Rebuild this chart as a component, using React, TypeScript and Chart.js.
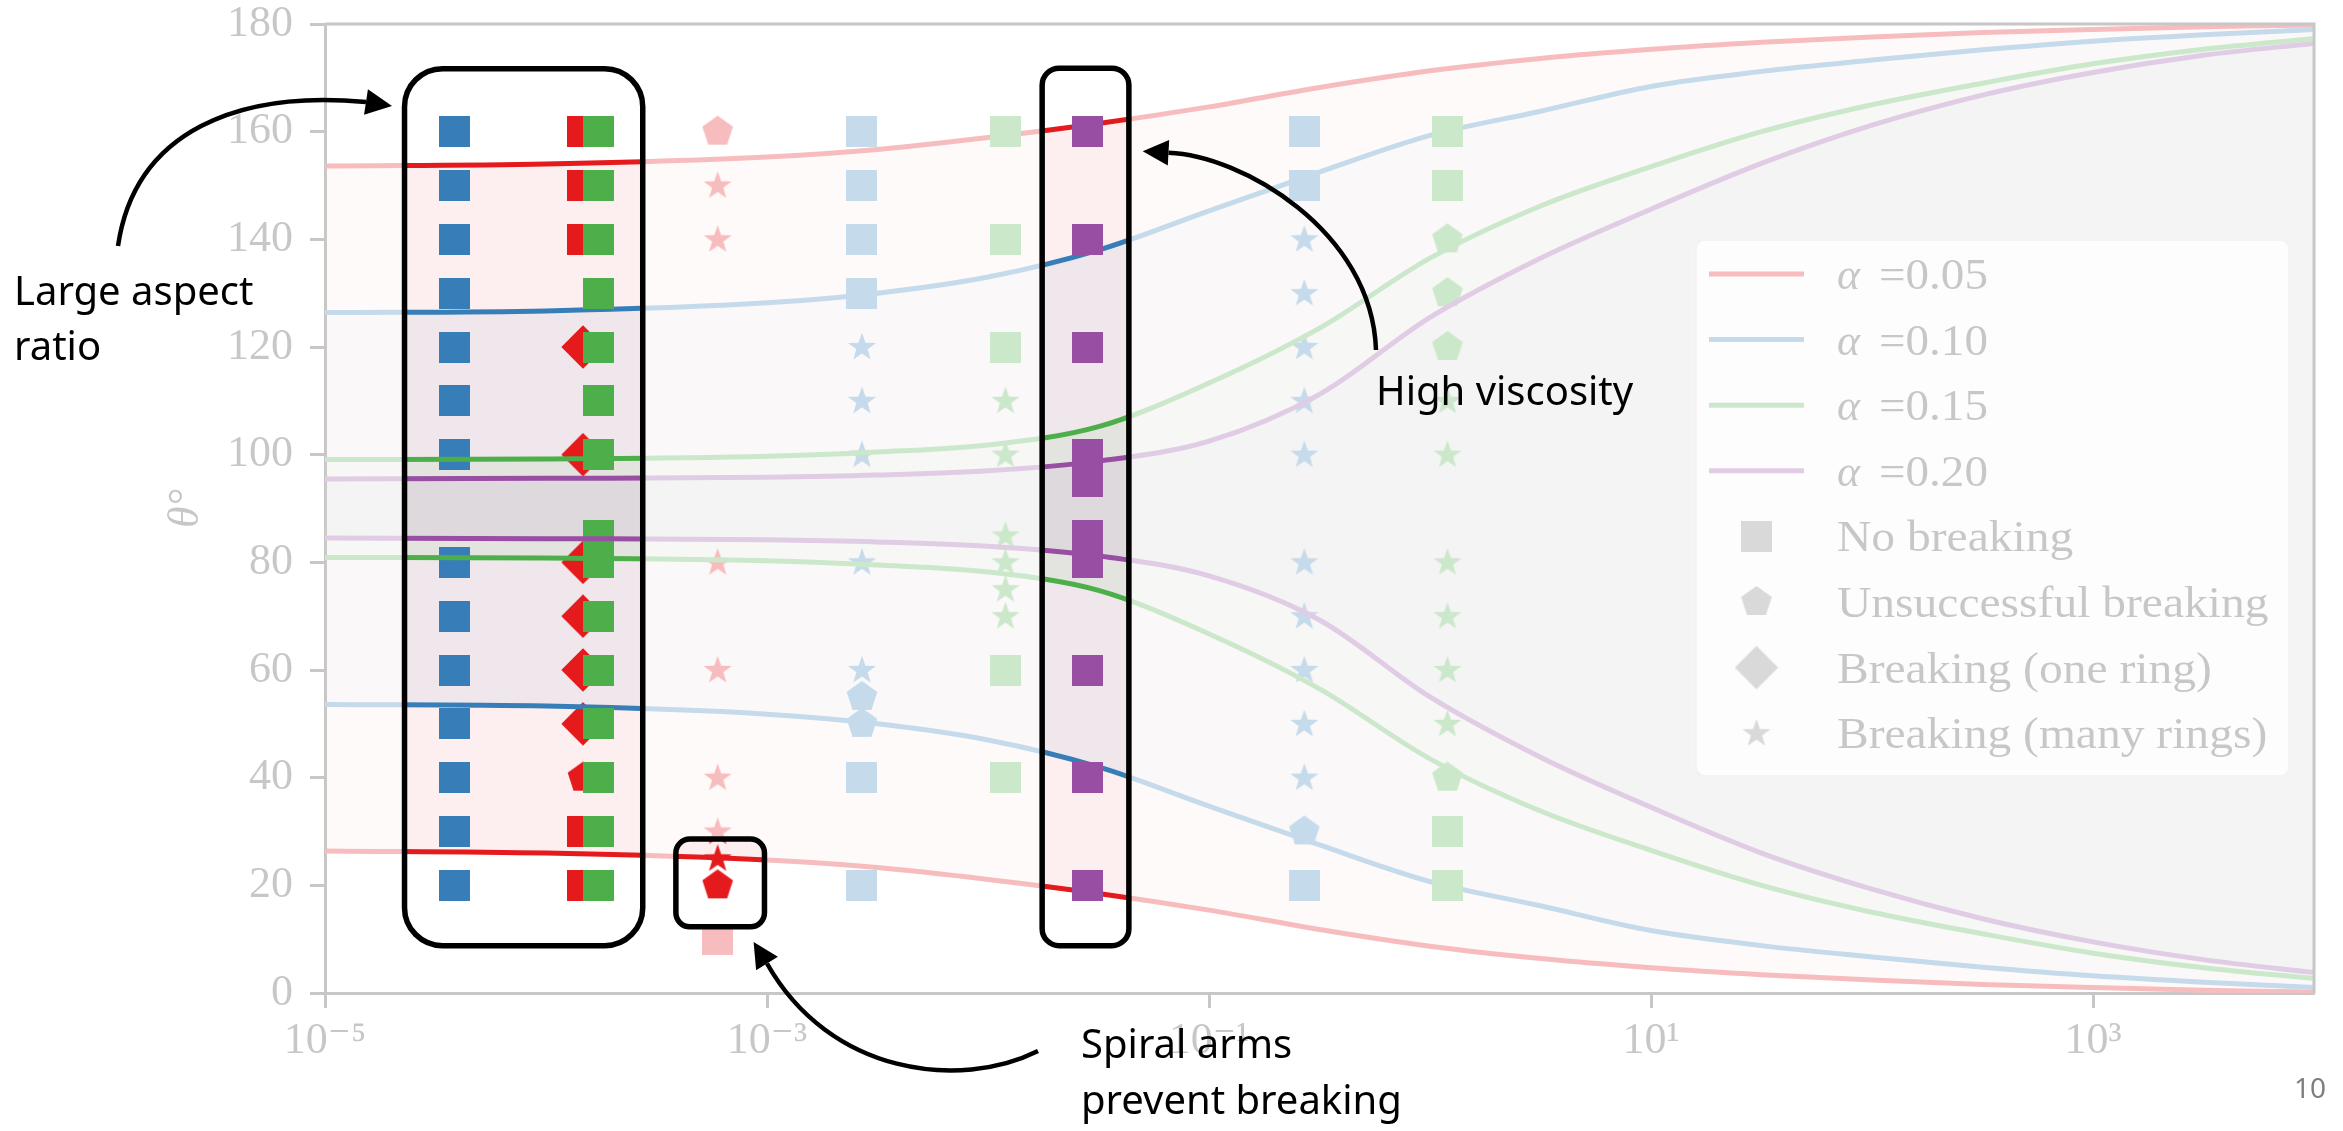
import React, { useEffect, useRef } from 'react';
import { Chart, registerables } from 'chart.js';

Chart.register(...registerables);

const CANVAS_W = 2343;
const CANVAS_H = 1131;

// ---------- boundary curves (θ° versus x), read at half-decade steps ----------
const CURVE_X = [1e-5, 1e-4, 1e-3, 3.162e-3, 1e-2, 3.162e-2, 0.1, 0.3162, 1, 3.162, 10, 31.62, 100, 316.2, 1000, 3162, 10000];
const A005_UPPER = [153.6, 154.0, 155.3, 156.7, 158.9, 161.5, 164.6, 168.2, 171.3, 173.6, 175.3, 176.6, 177.6, 178.4, 179.0, 179.5, 179.8];
const A005_LOWER = [26.4, 26.0, 24.7, 23.3, 21.1, 18.5, 15.4, 11.8, 8.7, 6.4, 4.7, 3.4, 2.4, 1.6, 1.0, 0.5, 0.2];
const A010_UPPER = [126.4, 126.7, 128.2, 130.0, 133.0, 138.0, 145.3, 152.5, 159.3, 163.8, 168.4, 171.2, 173.3, 175.2, 176.8, 178.0, 179.0];
const A010_LOWER = [53.6, 53.3, 51.8, 50.0, 47.0, 42.0, 34.7, 27.5, 20.7, 16.2, 11.6, 8.8, 6.7, 4.8, 3.2, 2.0, 1.0];
const A015_UPPER = [99.1, 99.2, 99.7, 100.5, 101.8, 105.2, 113.3, 123.5, 136.5, 146.2, 153.5, 160.0, 165.0, 169.0, 172.6, 175.3, 177.3];
const A015_LOWER = [80.9, 80.8, 80.3, 79.5, 78.2, 74.8, 66.7, 56.5, 43.5, 33.8, 26.5, 20.0, 15.0, 11.0, 7.4, 4.7, 2.7];
const A020_UPPER = [95.5, 95.6, 95.8, 96.2, 97.0, 98.8, 102.5, 111.2, 125.5, 136.5, 145.6, 154.1, 161.2, 166.8, 171.0, 174.2, 176.4];
const A020_LOWER = [84.5, 84.4, 84.2, 83.8, 83.0, 81.2, 77.5, 69.3, 55.0, 43.8, 34.5, 26.0, 19.3, 13.8, 9.5, 6.2, 3.8];

// ---------- simulation outcomes [x, θ°] ----------
// α = 0.05
const A005_SQUARE = [[1.47e-4, 160], [1.47e-4, 150], [1.47e-4, 140], [1.47e-4, 30], [1.47e-4, 20], [5.98e-4, 10]];
const A005_PENTAGON = [[1.47e-4, 40], [5.98e-4, 160], [5.98e-4, 20]];
const A005_DIAMOND = [[1.47e-4, 120], [1.47e-4, 100], [1.47e-4, 80], [1.47e-4, 70], [1.47e-4, 60], [1.47e-4, 50]];
const A005_STAR = [[5.98e-4, 150], [5.98e-4, 140], [5.98e-4, 80], [5.98e-4, 60], [5.98e-4, 40], [5.98e-4, 30], [5.98e-4, 25]];
// α = 0.10
const A010_SQUARE = [
  [3.87e-5, 160], [3.87e-5, 150], [3.87e-5, 140], [3.87e-5, 130], [3.87e-5, 120], [3.87e-5, 110], [3.87e-5, 100],
  [3.87e-5, 80], [3.87e-5, 70], [3.87e-5, 60], [3.87e-5, 50], [3.87e-5, 40], [3.87e-5, 30], [3.87e-5, 20],
  [2.69e-3, 160], [2.69e-3, 150], [2.69e-3, 140], [2.69e-3, 130], [2.69e-3, 40], [2.69e-3, 20],
  [0.27, 160], [0.27, 150], [0.27, 20],
];
const A010_PENTAGON = [[2.69e-3, 55], [2.69e-3, 50], [0.27, 30]];
const A010_STAR = [
  [2.69e-3, 120], [2.69e-3, 110], [2.69e-3, 100], [2.69e-3, 80], [2.69e-3, 60],
  [0.27, 140], [0.27, 130], [0.27, 120], [0.27, 110], [0.27, 100], [0.27, 80], [0.27, 70], [0.27, 60], [0.27, 50], [0.27, 40],
];
// α = 0.15
const A015_SQUARE = [
  [1.72e-4, 160], [1.72e-4, 150], [1.72e-4, 140], [1.72e-4, 130], [1.72e-4, 120], [1.72e-4, 110], [1.72e-4, 100],
  [1.72e-4, 85], [1.72e-4, 80], [1.72e-4, 70], [1.72e-4, 60], [1.72e-4, 50], [1.72e-4, 40], [1.72e-4, 30], [1.72e-4, 20],
  [1.2e-2, 160], [1.2e-2, 140], [1.2e-2, 120], [1.2e-2, 60], [1.2e-2, 40],
  [1.2, 160], [1.2, 150], [1.2, 30], [1.2, 20],
];
const A015_PENTAGON = [[1.2, 140], [1.2, 130], [1.2, 120], [1.2, 40]];
const A015_STAR = [
  [1.2e-2, 110], [1.2e-2, 100], [1.2e-2, 85], [1.2e-2, 80], [1.2e-2, 75], [1.2e-2, 70],
  [1.2, 110], [1.2, 100], [1.2, 80], [1.2, 70], [1.2, 60], [1.2, 50],
];
// α = 0.20
const A020_SQUARE = [
  [2.83e-2, 160], [2.83e-2, 140], [2.83e-2, 120], [2.83e-2, 100], [2.83e-2, 95],
  [2.83e-2, 85], [2.83e-2, 80], [2.83e-2, 60], [2.83e-2, 40], [2.83e-2, 20],
];

// ---------- axes ----------
const X_TICKS = [1e-5, 1e-3, 1e-1, 1e1, 1e3];
const X_TICK_LABELS = ['10⁻⁵', '10⁻³', '10⁻¹', '10¹', '10³'];
const Y_MIN = 0;
const Y_MAX = 180;
const Y_STEP = 20;
const X_MIN = 1e-5;
const X_MAX = 1e4;

// ---------- legend ----------
const ALPHA_LABELS = ['0.05', '0.10', '0.15', '0.20'];
const OUTCOME_LABELS = ['No breaking', 'Unsuccessful breaking', 'Breaking (one ring)', 'Breaking (many rings)'];
const OUTCOME_SHAPES = ['square', 'pentagon', 'diamond', 'star'];

// ---------- highlighted regions (data coordinates) ----------
const HIGHLIGHT_BOXES = [
  { x0: 2.29e-5, x1: 2.74e-4, y0: 8.8, y1: 171.7, r: 38 },
  { x0: 3.87e-4, x1: 9.74e-4, y0: 12.3, y1: 28.6, r: 14 },
  { x0: 1.758e-2, x1: 4.34e-2, y0: 8.8, y1: 171.8, r: 17 },
];

const COLORS = ['#e41a1c', '#377eb8', '#4daf4a', '#984ea3'];
const FILLS = ['rgba(228,26,28,0.07)', 'rgba(55,126,184,0.07)', 'rgba(77,175,74,0.07)', 'rgba(152,78,163,0.07)'];
const INK = '#3e3e3e';
const LEGEND_MARK = '#7a7a7a';
const FADE = 'rgba(255,255,255,0.715)';
const SERIF = '"Liberation Serif", "DejaVu Serif", serif';
const SANS = '"Noto Sans", "Open Sans", sans-serif';

type Shape = 'square' | 'pentagon' | 'diamond' | 'star';

function markerCanvas(shape: Shape, color: string): HTMLCanvasElement {
  const c = document.createElement('canvas');
  const ctx = c.getContext('2d') as CanvasRenderingContext2D;
  if (shape === 'square') {
    c.width = 31; c.height = 31;
    ctx.fillStyle = color;
    ctx.fillRect(0, 0, 31, 31);
    return c;
  }
  if (shape === 'diamond') {
    c.width = 44; c.height = 44;
    ctx.fillStyle = color;
    ctx.beginPath();
    ctx.moveTo(22, 0.3); ctx.lineTo(43.7, 22); ctx.lineTo(22, 43.7); ctx.lineTo(0.3, 22);
    ctx.closePath(); ctx.fill();
    return c;
  }
  if (shape === 'pentagon') {
    c.width = 34; c.height = 34;
    const R = 16.1, cx = 17, cy = 17;
    ctx.fillStyle = color;
    ctx.beginPath();
    for (let k = 0; k < 5; k++) {
      const a = -Math.PI / 2 + (k * 2 * Math.PI) / 5;
      const px = cx + R * Math.cos(a), py = cy + R * Math.sin(a);
      if (k === 0) ctx.moveTo(px, py); else ctx.lineTo(px, py);
    }
    ctx.closePath(); ctx.fill();
    return c;
  }
  c.width = 32; c.height = 32;
  const R = 14.8, r = R * 0.4, cx = 16, cy = 16.5;
  ctx.fillStyle = color;
  ctx.beginPath();
  for (let k = 0; k < 10; k++) {
    const a = -Math.PI / 2 + (k * Math.PI) / 5;
    const rr = k % 2 === 0 ? R : r;
    const px = cx + rr * Math.cos(a), py = cy + rr * Math.sin(a);
    if (k === 0) ctx.moveTo(px, py); else ctx.lineTo(px, py);
  }
  ctx.closePath(); ctx.fill();
  return c;
}

function roundRectPath(ctx: CanvasRenderingContext2D, x: number, y: number, w: number, h: number, r: number) {
  ctx.moveTo(x + r, y);
  ctx.lineTo(x + w - r, y);
  ctx.arcTo(x + w, y, x + w, y + r, r);
  ctx.lineTo(x + w, y + h - r);
  ctx.arcTo(x + w, y + h, x + w - r, y + h, r);
  ctx.lineTo(x + r, y + h);
  ctx.arcTo(x, y + h, x, y + h - r, r);
  ctx.lineTo(x, y + r);
  ctx.arcTo(x, y, x + r, y, r);
  ctx.closePath();
}

type P = [number, number];
function drawArrow(ctx: CanvasRenderingContext2D, p0: P, p1: P, p2: P, p3: P, tip: P) {
  ctx.save();
  ctx.strokeStyle = '#000';
  ctx.fillStyle = '#000';
  ctx.lineWidth = 4.5;
  ctx.beginPath();
  ctx.moveTo(p0[0], p0[1]);
  ctx.bezierCurveTo(p1[0], p1[1], p2[0], p2[1], p3[0], p3[1]);
  ctx.stroke();
  const dx = tip[0] - p3[0], dy = tip[1] - p3[1];
  const L = Math.hypot(dx, dy);
  const nx = -dy / L, ny = dx / L;
  const hw = 12.8;
  ctx.beginPath();
  ctx.moveTo(tip[0], tip[1]);
  ctx.lineTo(p3[0] + nx * hw, p3[1] + ny * hw);
  ctx.lineTo(p3[0] - nx * hw, p3[1] - ny * hw);
  ctx.closePath();
  ctx.fill();
  ctx.restore();
}

function stretchedText(ctx: CanvasRenderingContext2D, text: string, x: number, y: number, k: number) {
  ctx.save();
  ctx.translate(x, y);
  ctx.scale(k, 1);
  ctx.fillText(text, 0, 0);
  ctx.restore();
}

function drawLegend(ctx: CanvasRenderingContext2D, marks: Record<string, HTMLCanvasElement>) {
  ctx.save();
  ctx.beginPath();
  roundRectPath(ctx, 1696, 240, 593, 536, 9);
  ctx.fillStyle = 'rgba(255,255,255,0.8)';
  ctx.fill();
  ctx.strokeStyle = 'rgba(204,204,204,0.8)';
  ctx.lineWidth = 1.5;
  ctx.stroke();

  const row0 = 274, dy = 65.6;
  ctx.fillStyle = INK;
  ctx.textBaseline = 'alphabetic';
  ctx.textAlign = 'left';
  ALPHA_LABELS.forEach((lab, i) => {
    const y = row0 + i * dy;
    ctx.strokeStyle = COLORS[i];
    ctx.lineWidth = 5;
    ctx.beginPath();
    ctx.moveTo(1709, y);
    ctx.lineTo(1804, y);
    ctx.stroke();
    ctx.font = `italic 44px ${SERIF}`;
    ctx.fillText('α', 1837, y + 15);
    ctx.font = `44px ${SERIF}`;
    stretchedText(ctx, '=' + lab, 1879, y + 15, 1.07);
  });
  OUTCOME_LABELS.forEach((lab, j) => {
    const y = row0 + (j + 4) * dy;
    const img = marks[OUTCOME_SHAPES[j]];
    ctx.drawImage(img, 1756.5 - img.width / 2, y - img.height / 2);
    ctx.font = `44px ${SERIF}`;
    stretchedText(ctx, lab, 1837, y + 15, 1.08);
  });
  ctx.restore();
}

export default function App() {
  const ref = useRef<HTMLCanvasElement | null>(null);

  useEffect(() => {
    document.body.style.margin = '0';
    document.body.style.overflow = 'hidden';
    const canvas = ref.current;
    if (!canvas) return;

    const shapes: Shape[] = ['square', 'pentagon', 'diamond', 'star'];
    const colored = COLORS.map((c) => {
      const m: Record<string, HTMLCanvasElement> = {};
      shapes.forEach((s) => { m[s] = markerCanvas(s, c); });
      return m;
    });
    const legendMarks: Record<string, HTMLCanvasElement> = {};
    shapes.forEach((s) => { legendMarks[s] = markerCanvas(s, LEGEND_MARK); });

    const pts = (arr: number[][]) => arr.map(([x, y]) => ({ x, y }));
    const curve = (ys: number[]) => CURVE_X.map((x, i) => ({ x, y: ys[i] }));

    const groups = [
      { markers: [['square', A005_SQUARE], ['pentagon', A005_PENTAGON], ['diamond', A005_DIAMOND], ['star', A005_STAR]], upper: A005_UPPER, lower: A005_LOWER },
      { markers: [['square', A010_SQUARE], ['pentagon', A010_PENTAGON], ['star', A010_STAR]], upper: A010_UPPER, lower: A010_LOWER },
      { markers: [['square', A015_SQUARE], ['pentagon', A015_PENTAGON], ['star', A015_STAR]], upper: A015_UPPER, lower: A015_LOWER },
      { markers: [['square', A020_SQUARE]], upper: A020_UPPER, lower: A020_LOWER },
    ];

    const datasets: any[] = [];
    groups.forEach((g, gi) => {
      g.markers.forEach(([shape, data]) => {
        datasets.push({
          label: `α=${ALPHA_LABELS[gi]} ${shape}`,
          data: pts(data as number[][]),
          showLine: false,
          pointStyle: colored[gi][shape as string],
          pointRadius: 10,
          pointHoverRadius: 10,
          borderWidth: 0,
        });
      });
      const upperIdx = datasets.length;
      datasets.push({
        label: `α=${ALPHA_LABELS[gi]} upper`,
        data: curve(g.upper),
        showLine: true,
        borderColor: COLORS[gi],
        backgroundColor: FILLS[gi],
        borderWidth: 5,
        pointRadius: 0,
        cubicInterpolationMode: 'monotone',
        fill: upperIdx + 1,
      });
      datasets.push({
        label: `α=${ALPHA_LABELS[gi]} lower`,
        data: curve(g.lower),
        showLine: true,
        borderColor: COLORS[gi],
        borderWidth: 5,
        pointRadius: 0,
        cubicInterpolationMode: 'monotone',
        fill: false,
      });
    });
    datasets.forEach((d, i) => { d.order = 200 - i; });

    const slidePlugin = {
      id: 'slideOverlay',
      afterDraw(chart: any) {
        const ctx: CanvasRenderingContext2D = chart.ctx;
        const area = chart.chartArea;
        const xs = chart.scales.x;
        const ys = chart.scales.y;

        // top and right spines
        ctx.save();
        ctx.strokeStyle = INK;
        ctx.lineWidth = 3;
        ctx.beginPath();
        ctx.moveTo(area.left, area.top);
        ctx.lineTo(area.right, area.top);
        ctx.lineTo(area.right, area.bottom);
        ctx.stroke();
        ctx.restore();

        drawLegend(ctx, legendMarks);

        const boxes = HIGHLIGHT_BOXES.map((b) => {
          const x0 = xs.getPixelForValue(b.x0), x1 = xs.getPixelForValue(b.x1);
          const y0 = ys.getPixelForValue(b.y1), y1 = ys.getPixelForValue(b.y0);
          return { x: x0, y: y0, w: x1 - x0, h: y1 - y0, r: b.r };
        });

        // fade everything except the highlighted regions
        ctx.save();
        ctx.beginPath();
        ctx.rect(0, 0, chart.width, chart.height);
        boxes.forEach((b) => roundRectPath(ctx, b.x, b.y, b.w, b.h, b.r));
        ctx.fillStyle = FADE;
        ctx.fill('evenodd');
        ctx.restore();

        // box outlines
        ctx.save();
        ctx.strokeStyle = '#000';
        ctx.lineWidth = 5.5;
        boxes.forEach((b) => {
          ctx.beginPath();
          roundRectPath(ctx, b.x, b.y, b.w, b.h, b.r);
          ctx.stroke();
        });
        ctx.restore();

        // arrows
        drawArrow(ctx, [118, 246], [135, 130], [240, 90], [366, 102], [392, 106]);
        drawArrow(ctx, [1376, 350], [1372, 230], [1240, 155], [1168.5, 152.7], [1142.7, 151.3]);
        drawArrow(ctx, [1038, 1051], [960, 1090], [830, 1075], [767, 963.5], [753.6, 941.9]);

        // annotation text
        ctx.save();
        ctx.fillStyle = '#000';
        ctx.textAlign = 'left';
        ctx.textBaseline = 'alphabetic';
        ctx.font = `40px ${SANS}`;
        ctx.fillText('Large aspect', 14, 305);
        ctx.fillText('ratio', 14, 360);
        ctx.fillText('High viscosity', 1376, 405);
        ctx.fillText('Spiral arms', 1081, 1058);
        ctx.fillText('prevent breaking', 1081, 1114);
        ctx.font = `28px ${SANS}`;
        ctx.fillStyle = '#7f7f7f';
        ctx.textAlign = 'right';
        ctx.fillText('10', 2326, 1098);
        ctx.restore();
      },
    };

    const chart = new Chart(canvas, {
      type: 'line',
      data: { datasets },
      options: {
        animation: false,
        responsive: false,
        devicePixelRatio: 1,
        events: [],
        layout: { padding: { left: 0, right: 29, top: 24, bottom: 0 } },
        plugins: {
          legend: { display: false },
          tooltip: { enabled: false },
          filler: { drawTime: 'beforeDatasetsDraw' },
        } as any,
        scales: {
          x: {
            type: 'logarithmic',
            min: X_MIN,
            max: X_MAX,
            position: 'bottom',
            afterBuildTicks: (s: any) => { s.ticks = X_TICKS.map((v) => ({ value: v, major: true })); },
            afterFit: (s: any) => { s.height = 138; s.paddingLeft = 0; s.paddingRight = 0; },
            ticks: {
              autoSkip: false,
              maxRotation: 0,
              minRotation: 0,
              padding: 11,
              color: INK,
              font: { family: SERIF, size: 44, lineHeight: 1 },
              callback: (_v: any, i: number) => X_TICK_LABELS[i],
            },
            grid: { drawOnChartArea: false, drawTicks: true, tickLength: 15, tickWidth: 3, tickColor: INK },
            border: { display: true, color: INK, width: 3 },
          },
          y: {
            type: 'linear',
            min: Y_MIN,
            max: Y_MAX,
            afterFit: (s: any) => { s.width = 325; s.paddingTop = 0; s.paddingBottom = 0; },
            ticks: {
              stepSize: Y_STEP,
              padding: 17,
              color: INK,
              font: { family: SERIF, size: 44, lineHeight: 1 },
            },
            grid: { drawOnChartArea: false, drawTicks: true, tickLength: 15, tickWidth: 3, tickColor: INK },
            border: { display: true, color: INK, width: 3 },
            title: {
              display: true,
              text: 'θ°',
              color: INK,
              font: { family: SERIF, size: 44, style: 'italic', lineHeight: 1.2 },
              padding: { top: 160, bottom: 0 },
            },
          },
        },
      } as any,
      plugins: [slidePlugin],
    });

    return () => chart.destroy();
  }, []);

  return (
    <div style={{ width: CANVAS_W, height: CANVAS_H, overflow: 'hidden', position: 'relative' }}>
      <canvas ref={ref} width={CANVAS_W} height={CANVAS_H} style={{ display: 'block', width: CANVAS_W, height: CANVAS_H }} />
    </div>
  );
}
